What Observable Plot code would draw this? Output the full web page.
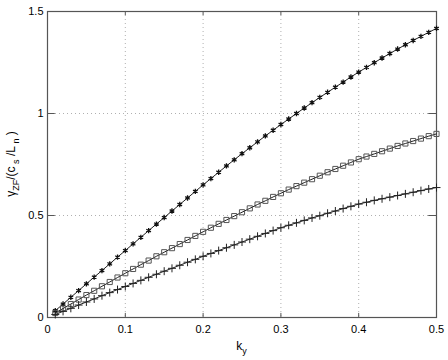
<!DOCTYPE html>
<html><head><meta charset="utf-8">
<script src="https://cdn.jsdelivr.net/npm/d3@7"></script>
<script src="https://cdn.jsdelivr.net/npm/@observablehq/plot@0.6"></script>
<style>body{margin:0;background:#fff}</style>
</head><body><div id="chart"></div>
<script>
const ky = [0.01,0.02,0.03,0.04,0.05,0.06,0.07,0.08,0.09,0.10,
            0.11,0.12,0.13,0.14,0.15,0.16,0.17,0.18,0.19,0.20,
            0.21,0.22,0.23,0.24,0.25,0.26,0.27,0.28,0.29,0.30,
            0.31,0.32,0.33,0.34,0.35,0.36,0.37,0.38,0.39,0.40,
            0.41,0.42,0.43,0.44,0.45,0.46,0.47,0.48,0.49,0.50];
const gammaStar = [0.033,0.066,0.099,0.132,0.165,0.198,0.230,0.263,0.296,0.328,
                   0.361,0.393,0.426,0.458,0.490,0.522,0.554,0.586,0.618,0.650,
                   0.681,0.712,0.743,0.773,0.803,0.832,0.861,0.890,0.918,0.946,
                   0.973,1.000,1.027,1.053,1.079,1.104,1.129,1.154,1.179,1.203,
                   1.226,1.249,1.272,1.294,1.316,1.337,1.358,1.378,1.398,1.417];
const gammaSquare = [0.022,0.044,0.066,0.088,0.110,0.131,0.153,0.174,0.196,0.217,
                     0.238,0.259,0.279,0.300,0.320,0.340,0.360,0.380,0.400,0.420,
                     0.440,0.459,0.478,0.497,0.516,0.535,0.554,0.572,0.591,0.609,
                     0.627,0.644,0.661,0.678,0.695,0.712,0.728,0.744,0.760,0.776,
                     0.789,0.802,0.815,0.828,0.841,0.853,0.865,0.877,0.889,0.900];
const gammaPlus = [0.015,0.030,0.045,0.061,0.076,0.091,0.107,0.122,0.137,0.152,
                   0.167,0.182,0.197,0.212,0.227,0.241,0.256,0.271,0.285,0.300,
                   0.314,0.328,0.342,0.356,0.370,0.384,0.398,0.412,0.426,0.440,
                   0.452,0.464,0.476,0.488,0.499,0.511,0.522,0.534,0.545,0.556,
                   0.565,0.574,0.582,0.590,0.598,0.606,0.614,0.622,0.630,0.637];
const xTicks = [0,0.1,0.2,0.3,0.4,0.5];
const xTickLabels = ["0","0.1","0.2","0.3","0.4","0.5"];
const yTicks = [0,0.5,1,1.5];
const yTickLabels = ["0","0.5","1","1.5"];

const rowsOf = (vals, name) => ky.map((k, i) => ({ky: k, g: vals[i], s: name}));
const starRows = rowsOf(gammaStar, "star");
const squareRows = rowsOf(gammaSquare, "square");
const plusRows = rowsOf(gammaPlus, "plus");
const allRows = [...starRows, ...squareRows, ...plusRows];

const font = "'Liberation Sans', Arial, Helvetica, sans-serif";
const axisColor = "#555";
const gridStyle = {stroke: "#b0b0b0", strokeOpacity: 1, strokeDasharray: "1,3", strokeWidth: 1};

const plot = Plot.plot({
  width: 448, height: 360,
  marginLeft: 47, marginRight: 12, marginTop: 11, marginBottom: 43,
  style: {fontFamily: font, fontSize: "11px", background: "#fff", color: "#000"},
  x: {domain: [0, 0.5]},
  y: {domain: [0, 1.5]},
  marks: [
    Plot.gridX(xTicks.slice(1, -1), gridStyle),
    Plot.gridY(yTicks.slice(1, -1), gridStyle),
    Plot.axisX(xTicks, {tickSize: 0, tickPadding: 8, label: null, fontSize: 11,
      tickFormat: d => xTickLabels[xTicks.indexOf(d)]}),
    Plot.axisY(yTicks, {tickSize: 0, tickPadding: 4, label: null, fontSize: 11,
      tickFormat: d => yTickLabels[yTicks.indexOf(d)]}),
    Plot.ruleX(xTicks, {y1: 0, y2: 0.02, stroke: axisColor}),
    Plot.ruleX(xTicks, {y1: 1.5, y2: 1.48, stroke: axisColor}),
    Plot.ruleY(yTicks, {x1: 0, x2: 0.01, stroke: axisColor}),
    Plot.ruleY(yTicks, {x1: 0.5, x2: 0.49, stroke: axisColor}),
    Plot.frame({stroke: axisColor, strokeWidth: 1.2}),
    Plot.line(allRows, {x: "ky", y: "g", z: "s", stroke: "#222", strokeWidth: 1}),
    Plot.dot(starRows, {x: "ky", y: "g", symbol: "asterisk", r: 2.5, stroke: "#111", strokeWidth: 1.3}),
    Plot.dot(squareRows, {x: "ky", y: "g", symbol: "square", r: 2.9, fill: "none", stroke: "#555", strokeWidth: 1}),
    Plot.dot(plusRows, {x: "ky", y: "g", symbol: "plus", r: 2.7, stroke: "#222", strokeWidth: 1})
  ]
});
document.getElementById("chart").appendChild(plot);

const sx = plot.scale("x"), sy = plot.scale("y");
const svg = d3.select(plot);
const xl = svg.append("text")
  .attr("x", sx.apply(0.25)).attr("y", 350)
  .attr("text-anchor", "middle")
  .style("font-family", font).style("font-size", "12px").attr("fill", "#000");
xl.append("tspan").text("k");
xl.append("tspan").attr("dy", 4).style("font-size", "9px").text("y");

const cy = (sy.apply(0) + sy.apply(1.5)) / 2;
const yl = svg.append("text")
  .attr("transform", `translate(15,${cy}) rotate(-90)`)
  .attr("text-anchor", "middle")
  .style("font-family", font).style("font-size", "12px").attr("fill", "#000");
yl.append("tspan").text("γ");
yl.append("tspan").attr("dy", 4).style("font-size", "9px").text("ZF");
yl.append("tspan").attr("dy", -4).text("/(c");
yl.append("tspan").attr("dy", 4).style("font-size", "9px").text(" s");
yl.append("tspan").attr("dy", -4).text(" /L");
yl.append("tspan").attr("dy", 4).style("font-size", "9px").text(" n");
yl.append("tspan").attr("dy", -4).text(" )");
</script>
</body></html>
